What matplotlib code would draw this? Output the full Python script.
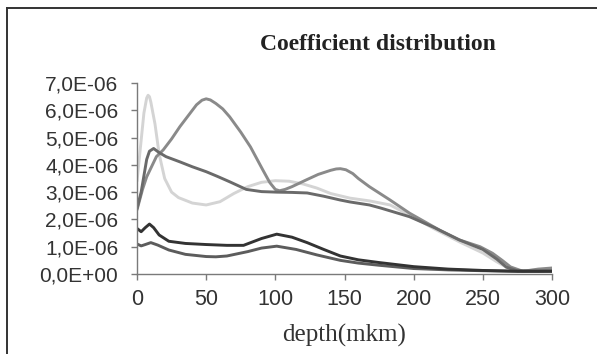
import matplotlib
matplotlib.use("Agg")
import matplotlib.pyplot as plt
from matplotlib.ticker import FuncFormatter
from matplotlib.lines import Line2D

# depth values (mkm) and series (units of 1e-6)
x_light = [0, 3, 5, 7, 8, 9, 10, 13, 16, 20, 25, 30, 40, 50, 60, 70, 80, 90, 100, 110, 120, 130, 140, 154, 168, 183, 197, 215, 233, 250, 260, 267, 275, 282, 290, 300]
y_light = [3.4, 4.9, 5.9, 6.45, 6.55, 6.5, 6.3, 5.5, 4.4, 3.5, 3.0, 2.8, 2.6, 2.53, 2.65, 2.95, 3.2, 3.36, 3.42, 3.4, 3.3, 3.15, 2.95, 2.78, 2.68, 2.53, 2.16, 1.65, 1.18, 0.77, 0.45, 0.25, 0.12, 0.12, 0.15, 0.18]

x_mid = [0, 4, 7, 14, 19, 25, 31, 37, 43, 47, 50, 53, 57, 62, 67, 75, 82, 91, 96, 100, 103, 107, 112, 122, 131, 140, 144, 147, 151, 156, 160, 168, 183, 197, 219, 233, 248, 257, 264, 270, 279, 290, 300]
y_mid = [2.35, 3.1, 3.56, 4.3, 4.55, 4.95, 5.4, 5.8, 6.2, 6.37, 6.42, 6.38, 6.25, 6.05, 5.76, 5.2, 4.66, 3.81, 3.35, 3.1, 3.05, 3.1, 3.2, 3.44, 3.65, 3.8, 3.85, 3.86, 3.82, 3.68, 3.5, 3.2, 2.71, 2.23, 1.6, 1.25, 1.0, 0.76, 0.5, 0.26, 0.1, 0.18, 0.22]

x_dark = [0, 3, 5, 7, 9, 12, 16, 21, 31, 40, 50, 58, 67, 79, 90, 101, 112, 123, 135, 147, 154, 168, 176, 197, 215, 233, 250, 260, 267, 275, 290, 300]
y_dark = [2.4, 3.0, 3.6, 4.2, 4.5, 4.6, 4.45, 4.3, 4.11, 3.93, 3.75, 3.58, 3.38, 3.1, 3.02, 3.0, 2.99, 2.97, 2.85, 2.71, 2.64, 2.53, 2.42, 2.1, 1.7, 1.25, 0.9, 0.55, 0.25, 0.12, 0.1, 0.12]

x_black = [0, 3, 6, 9, 12, 16, 23, 35, 50, 65, 77, 90, 101, 112, 123, 135, 147, 160, 175, 200, 225, 250, 275, 300]
y_black = [1.67, 1.55, 1.7, 1.83, 1.7, 1.43, 1.2, 1.12, 1.08, 1.05, 1.05, 1.3, 1.46, 1.35, 1.15, 0.9, 0.66, 0.52, 0.42, 0.27, 0.18, 0.13, 0.1, 0.1]

x_low = [0, 3, 6, 10, 15, 23, 35, 50, 57, 65, 80, 90, 101, 115, 130, 147, 160, 175, 200, 225, 250, 275, 300]
y_low = [1.1, 1.03, 1.08, 1.15, 1.06, 0.88, 0.72, 0.64, 0.63, 0.66, 0.82, 0.95, 1.02, 0.9, 0.7, 0.5, 0.4, 0.32, 0.2, 0.15, 0.12, 0.1, 0.1]

x_ticks = [0, 50, 100, 150, 200, 250, 300]
y_ticks = [0, 1e-6, 2e-6, 3e-6, 4e-6, 5e-6, 6e-6, 7e-6]

title = "Coefficient distribution"
xlabel = "depth(mkm)"

fig = plt.figure(figsize=(5.97, 3.54), dpi=100)
ax = fig.add_axes([137/597, 1 - 274/354, (552 - 137)/597, (274 - 83)/354])

scale = 1e-6
series = [
    (x_light, y_light, "#d4d4d4"),
    (x_mid, y_mid, "#8a8a8a"),
    (x_dark, y_dark, "#6a6a6a"),
    (x_low, y_low, "#5c5c5c"),
    (x_black, y_black, "#333333"),
]
for xs, ys, c in series:
    ax.plot(xs, [v * scale for v in ys], color=c, lw=2.1, solid_joinstyle="round", solid_capstyle="round")

ax.set_xlim(0, 300)
ax.set_ylim(0, 7e-6)
ax.set_xticks(x_ticks)
ax.set_yticks(y_ticks)
ax.yaxis.set_major_formatter(FuncFormatter(lambda v, p: f"{v:.1E}".replace(".", ",")))
for s in ["top", "right"]:
    ax.spines[s].set_visible(False)
for s in ["left", "bottom"]:
    ax.spines[s].set_color("#7a7a7a")
    ax.spines[s].set_linewidth(1.0)
ax.tick_params(axis="both", direction="out", length=4.5, width=1.0, color="#7a7a7a",
               labelcolor="#333333")
ax.tick_params(axis="y", pad=9, labelsize=15)
ax.tick_params(axis="x", pad=6, labelsize=15.5)
for lab in ax.get_xticklabels() + ax.get_yticklabels():
    lab.set_fontfamily("Liberation Sans")

ax.set_xlabel(xlabel, fontfamily="Liberation Serif", fontsize=18, color="#333333", labelpad=10)
fig.text(378/597, 1 - 45/354, title, ha="center", va="center", fontfamily="Liberation Serif",
         fontweight="bold", fontsize=17, color="#222222")

# outer frame (left and top edges visible)
fig.add_artist(Line2D([7/597, 7/597], [0, 1 - 8/354], transform=fig.transFigure, color="#333333", lw=1.4))
fig.add_artist(Line2D([7/597, 1], [1 - 8/354, 1 - 8/354], transform=fig.transFigure, color="#333333", lw=1.4))

fig.savefig("out.png", dpi=100)
